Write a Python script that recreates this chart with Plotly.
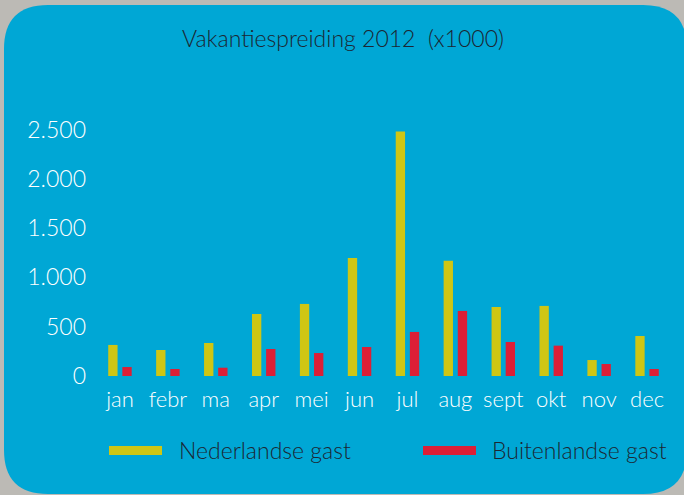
import plotly.graph_objects as go

# Gegevens (x1000)
maanden = ['jan', 'febr', 'ma', 'apr', 'mei', 'jun', 'jul', 'aug', 'sept', 'okt', 'nov', 'dec']
nederlandse_gast = [315, 264, 335, 629, 731, 1198, 2480, 1168, 700, 711, 162, 406]
buitenlandse_gast = [91, 71, 84, 274, 233, 294, 447, 660, 345, 308, 122, 71]
y_ticks = [0, 500, 1000, 1500, 2000, 2500]

#################################### LAYOUT #############################################
W, H = 684, 495
L, R, T, B = 96, 13, 100, 119
PW, PH = W - L - R, H - T - B

blauw = '#00a7d5'
geel = '#cfc614'
rood = '#dc1f36'
donker = '#1c2632'
fam = 'Lato, Noto Sans, sans-serif'


def px(x):
    return (x - L) / PW


def py(y):
    return (H - B - y) / PH


def rounded_rect(x0, y0, x1, y1, r):
    p = [
        'M {} {}'.format(px(x0 + r), py(y0)),
        'L {} {}'.format(px(x1 - r), py(y0)),
        'Q {} {} {} {}'.format(px(x1), py(y0), px(x1), py(y0 + r)),
        'L {} {}'.format(px(x1), py(y1 - r)),
        'Q {} {} {} {}'.format(px(x1), py(y1), px(x1 - r), py(y1)),
        'L {} {}'.format(px(x0 + r), py(y1)),
        'Q {} {} {} {}'.format(px(x0), py(y1), px(x0), py(y1 - r)),
        'L {} {}'.format(px(x0), py(y0 + r)),
        'Q {} {} {} {}'.format(px(x0), py(y0), px(x0 + r), py(y0)),
        'Z',
    ]
    return ' '.join(p)


fig = go.Figure()
fig.add_trace(go.Bar(x=maanden, y=nederlandse_gast, name='Nederlandse gast',
                     marker=dict(color=geel, line=dict(width=0))))
fig.add_trace(go.Bar(x=maanden, y=buitenlandse_gast, name='Buitenlandse gast',
                     marker=dict(color=rood, line=dict(width=0))))

shapes = [
    dict(type='path', xref='paper', yref='paper', layer='below',
         path=rounded_rect(4, 5, 687, 494, 44),
         fillcolor=blauw, line=dict(width=0)),
    # legenda
    dict(type='rect', xref='paper', yref='paper',
         x0=px(109), x1=px(162), y0=py(455), y1=py(446),
         fillcolor=geel, line=dict(width=0)),
    dict(type='rect', xref='paper', yref='paper',
         x0=px(423), x1=px(476), y0=py(455), y1=py(446),
         fillcolor=rood, line=dict(width=0)),
]

annotations = [
    dict(text='Vakantiespreiding 2012  (x1000)', xref='paper', yref='paper',
         x=px(343), y=py(38), xanchor='center', yanchor='middle', showarrow=False,
         font=dict(family=fam, size=23, color=donker, weight=300)),
    dict(text='Nederlandse gast', xref='paper', yref='paper',
         x=px(177), y=py(450), xanchor='left', yanchor='middle', showarrow=False,
         font=dict(family=fam, size=23, color=donker, weight=300)),
    dict(text='Buitenlandse gast', xref='paper', yref='paper',
         x=px(490), y=py(450), xanchor='left', yanchor='middle', showarrow=False,
         font=dict(family=fam, size=23, color=donker, weight=300)),
]

fig.update_layout(
    width=W, height=H,
    margin=dict(l=L, r=R, t=T, b=B, pad=0),
    paper_bgcolor='#bcbab5',
    plot_bgcolor='rgba(0,0,0,0)',
    barmode='group', bargap=0.41, bargroupgap=0.34,
    showlegend=False,
    separators=',.',
    font=dict(family=fam, size=21, color='white'),
    shapes=shapes,
    annotations=annotations,
    xaxis=dict(
        range=[-0.5, 11.5], showline=False, showgrid=False, zeroline=False,
        ticks='', ticklabelstandoff=8,
        tickfont=dict(family=fam, size=22, color='white', weight=300),
    ),
    yaxis=dict(
        range=[0, 2800], showline=False, showgrid=False, zeroline=False,
        tickvals=y_ticks, tickformat=',d', ticks='', ticklabelstandoff=9,
        tickfont=dict(family=fam, size=23, color='white', weight=300),
    ),
)

# body-marge weg zodat de figuur precies in het venster past
fig.write_html('out.html', config={'displayModeBar': False},
               post_script="document.body.style.margin='0';document.body.style.overflow='hidden';")
